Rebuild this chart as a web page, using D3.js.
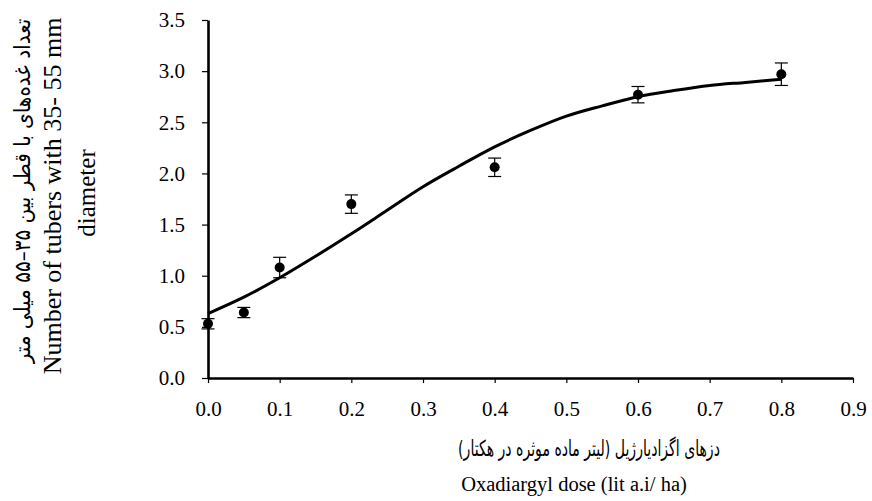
<!DOCTYPE html>
<html>
<head>
<meta charset="utf-8">
<script src="https://cdn.jsdelivr.net/npm/d3@7"></script>
<style>
  html, body { margin: 0; padding: 0; background: #fff; }
  svg { display: block; }
</style>
</head>
<body>
<svg id="chart" width="872" height="501"></svg>
<script>
// ---- data ----
const doses = [0, 0.05, 0.1, 0.2, 0.4, 0.6, 0.8];
const tubers = [0.53, 0.64, 1.08, 1.70, 2.06, 2.77, 2.97];
const errors = [0.05, 0.05, 0.10, 0.09, 0.09, 0.08, 0.11];
const fitX = [0, 0.05, 0.1, 0.15, 0.2, 0.25, 0.3, 0.35, 0.4, 0.45, 0.5, 0.55, 0.6, 0.65, 0.7, 0.75, 0.8];
const fitY = [0.63, 0.79, 0.98, 1.19, 1.41, 1.64, 1.87, 2.07, 2.26, 2.42, 2.56, 2.66, 2.75, 2.81, 2.86, 2.89, 2.92];
const xTicks = [0, 0.1, 0.2, 0.3, 0.4, 0.5, 0.6, 0.7, 0.8, 0.9];
const yTicks = [0, 0.5, 1.0, 1.5, 2.0, 2.5, 3.0, 3.5];
const xTitleFa = "دزهای اگزادیارژیل (لیتر ماده موثره در هکتار)";
const xTitleEn = "Oxadiargyl dose (lit a.i/ ha)";
const yTitleFa = "تعداد غده‌های با قطر بین ۳۵–۵۵ میلی متر";
const yTitleEn1 = "Number of tubers with 35- 55 mm";
const yTitleEn2 = "diameter";

const svg = d3.select("#chart");
const serif = "'Liberation Serif', 'Times New Roman', serif";
const faFont = "'DejaVu Sans', 'Noto Sans', sans-serif";

const x = d3.scaleLinear().domain([0, 0.9]).range([208, 853]);
const y = d3.scaleLinear().domain([0, 3.5]).range([378, 20]);

// axes
const xAxis = svg.append("g")
  .attr("transform", `translate(0,${y(0)})`)
  .call(d3.axisBottom(x).tickValues(xTicks).tickFormat(d3.format(".1f")).tickSize(5).tickSizeOuter(0).tickPadding(18));
const yAxis = svg.append("g")
  .attr("transform", `translate(${x(0)},0)`)
  .call(d3.axisLeft(y).tickValues(yTicks).tickFormat(d3.format(".1f")).tickSize(6).tickSizeOuter(0).tickPadding(17));

[xAxis, yAxis].forEach(g => {
  g.attr("font-family", serif).attr("font-size", 21);
  g.select(".domain").attr("stroke", "#000").attr("stroke-width", 2.6);
  g.selectAll(".tick line").attr("stroke", "#000").attr("stroke-width", 1.2);
  g.selectAll(".tick text").attr("fill", "#000")
    .style("font-family", serif).style("font-size", "21px");
});

// fitted curve
const line = d3.line()
  .x((d, i) => x(fitX[i]))
  .y(d => y(d))
  .curve(d3.curveMonotoneX);
svg.append("path")
  .datum(fitY)
  .attr("d", line)
  .attr("fill", "none")
  .attr("stroke", "#000")
  .attr("stroke-width", 3);

// error bars
const eb = svg.append("g").attr("stroke", "#000").attr("stroke-width", 1.2);
doses.forEach((dv, i) => {
  const cx = x(dv), top = y(tubers[i] + errors[i]), bot = y(tubers[i] - errors[i]);
  eb.append("line").attr("x1", cx).attr("x2", cx).attr("y1", top).attr("y2", bot);
  eb.append("line").attr("x1", cx - 6.5).attr("x2", cx + 6.5).attr("y1", top).attr("y2", top);
  eb.append("line").attr("x1", cx - 6.5).attr("x2", cx + 6.5).attr("y1", bot).attr("y2", bot);
});

// points
svg.append("g").selectAll("circle")
  .data(doses)
  .join("circle")
  .attr("cx", d => x(d))
  .attr("cy", (d, i) => y(tubers[i]))
  .attr("r", 5)
  .attr("fill", "#000");

// Persian text fitted to a target width by horizontal scaling
function faText(str, tx, ty, rot, target) {
  const t = svg.append("text")
    .attr("text-anchor", "middle")
    .attr("direction", "rtl")
    .style("font-family", faFont).style("font-size", "22px")
    .text(str);
  const w = t.node().getComputedTextLength() || target;
  const k = Math.min(1, target / w);
  t.attr("transform", `translate(${tx},${ty}) rotate(${rot}) scale(${k},1)`);
  return t;
}

// x titles
faText(xTitleFa, 589, 456, 0, 262);
svg.append("text")
  .attr("x", 574).attr("y", 491)
  .attr("text-anchor", "middle")
  .style("font-family", serif).style("font-size", "20.5px")
  .text(xTitleEn);

// y titles (rotated)
faText(yTitleFa, 30, 191, -90, 345);
svg.append("text")
  .attr("transform", "translate(61,196) rotate(-90)")
  .attr("text-anchor", "middle")
  .style("font-family", serif).style("font-size", "26px")
  .text(yTitleEn1);
svg.append("text")
  .attr("transform", "translate(95,193) rotate(-90)")
  .attr("text-anchor", "middle")
  .style("font-family", serif).style("font-size", "25px")
  .text(yTitleEn2);
</script>
</body>
</html>
